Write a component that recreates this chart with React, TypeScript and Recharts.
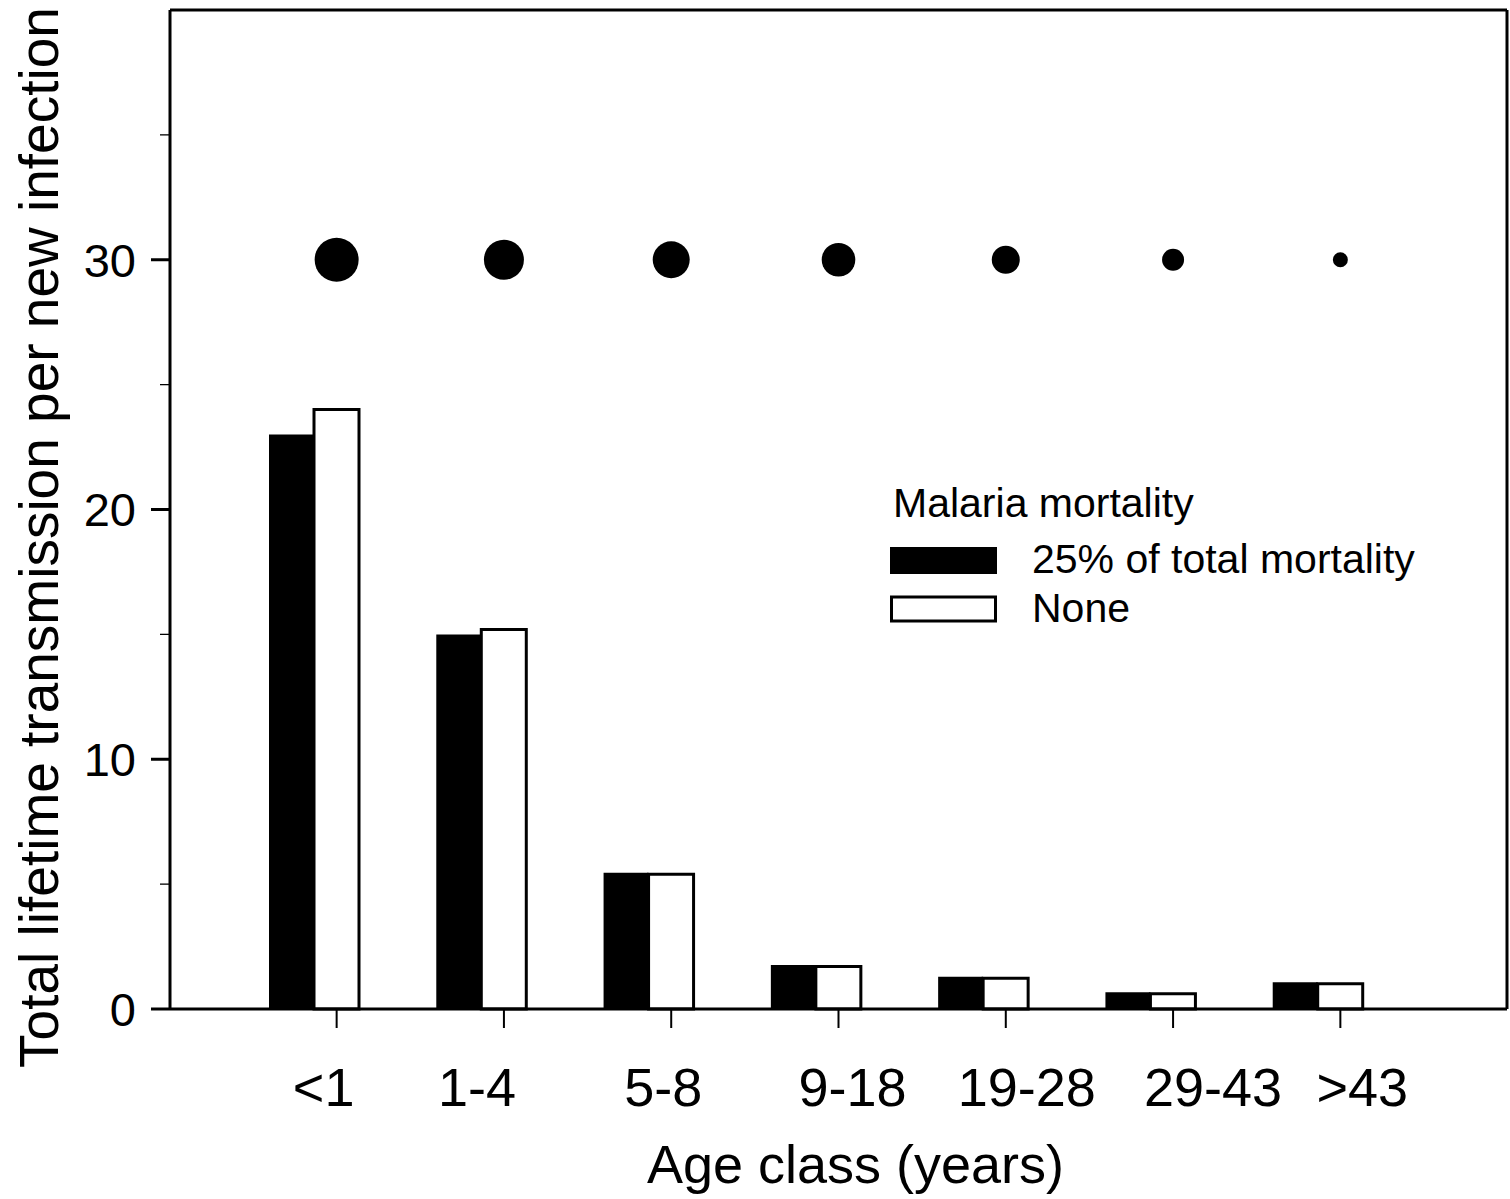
import React from 'react';
import { ComposedChart, Bar, Scatter, XAxis, YAxis, ReferenceLine, Legend, Label } from 'recharts';

// ---- data ----
const ageClasses = ['<1', '1-4', '5-8', '9-18', '19-28', '29-43', '>43'];
const mortality25 = [23.0, 15.0, 5.46, 1.76, 1.29, 0.67, 1.07];
const mortalityNone = [24.0, 15.2, 5.4, 1.7, 1.23, 0.61, 1.01];
const dotLevel = [30, 30, 30, 30, 30, 30, 30];
const dotRadius = [22, 20, 18.5, 16.8, 14, 11, 7.5];
const yTicks = [0, 5, 10, 15, 20, 25, 30, 35];
const yLabelledTicks = [0, 10, 20, 30];
const seriesNames = ['25% of total mortality', 'None'];
const legendTitle = 'Malaria mortality';
const xTitle = 'Age class (years)';
const yTitle = 'Total lifetime transmission per new infection';

const data = ageClasses.map((age, i) => ({
  age,
  mort25: mortality25[i],
  none: mortalityNone[i],
  dot: dotLevel[i],
  dotSize: dotRadius[i],
}));

const FONT = '"Liberation Sans", Arial, Helvetica, sans-serif';
// label nudges (style only) to mimic the original's hand-placed tick labels
const X_LABEL_SHIFT = [-13, -27, -8, 14, 21, 40, 22];

const XTick = (props: any) => {
  const { x, y, payload, index } = props;
  const shift = X_LABEL_SHIFT[index] ?? 0;
  return (
    <text x={x + shift} y={y + 78} textAnchor="middle" fontSize={54} fontFamily={FONT} fill="#000">
      {payload.value}
    </text>
  );
};

const YTick = (props: any) => {
  const { x, y, payload } = props;
  const v = payload.value;
  const major = yLabelledTicks.includes(v);
  return (
    <g>
      <line x1={x - (major ? 19 : 10)} x2={x} y1={y} y2={y} stroke="#000" strokeWidth={major ? 3 : 1.3} />
      {major && (
        <text x={x - 34} y={y} dy="0.36em" textAnchor="end" fontSize={47} fontFamily={FONT} fill="#000">
          {v}
        </text>
      )}
    </g>
  );
};

const XTitle = (props: any) => {
  const vb = props.viewBox || { x: 170, y: 1009, width: 1337 };
  return (
    <text x={vb.x + vb.width / 2 + 17} y={vb.y + 174} textAnchor="middle" fontSize={54} fontFamily={FONT} fill="#000">
      {xTitle}
    </text>
  );
};

const YTitle = (props: any) => {
  const vb = props.viewBox || { x: 0, y: 10, width: 170, height: 999 };
  const cx = vb.x + 58;
  const cy = vb.y + vb.height / 2 + 28;
  return (
    <text
      x={cx}
      y={cy}
      transform={`rotate(-90, ${cx}, ${cy})`}
      textAnchor="middle"
      fontSize={55}
      fontFamily={FONT}
      fill="#000"
    >
      {yTitle}
    </text>
  );
};

const DotShape = (props: any) => {
  const { cx, cy, payload } = props;
  return <circle cx={cx} cy={cy} r={payload.dotSize} fill="#000" />;
};

const LegendBox = (props: any) => {
  const items = (props.payload || []).filter((e: any) => seriesNames.includes(e.value));
  return (
    <svg width={580} height={170} style={{ display: 'block', overflow: 'visible' }}>
      <text x={13} y={47} fontSize={41} fontFamily={FONT} fill="#000">
        {legendTitle}
      </text>
      {items.map((e: any, i: number) => {
        const top = 77 + i * 48.5;
        const isWhite = e.value === seriesNames[1];
        return (
          <g key={e.value}>
            {isWhite ? (
              <rect x={11.5} y={top + 1.5} width={104} height={24} fill="#fff" stroke="#000" strokeWidth={3} />
            ) : (
              <rect x={10} y={top} width={107} height={27} fill="#000" />
            )}
            <text x={152} y={top + 26} fontSize={41} fontFamily={FONT} fill="#000">
              {e.value}
            </text>
          </g>
        );
      })}
    </svg>
  );
};

export default function App() {
  return (
    <div style={{ position: 'absolute', left: 0, top: 0, width: 1510, height: 1199, background: '#fff' }}>
      <ComposedChart
        width={1510}
        height={1199}
        data={data}
        margin={{ top: 10, right: 2, bottom: 70, left: 0 }}
        barGap={0}
        barSize={45}
      >
        <XAxis
          dataKey="age"
          padding={{ left: 83, right: 83 }}
          height={120}
          axisLine={{ stroke: '#000', strokeWidth: 3 }}
          tickLine={{ stroke: '#000', strokeWidth: 2 }}
          tickSize={19}
          tickMargin={0}
          tick={<XTick />}
          interval={0}
        >
          <Label content={<XTitle />} />
        </XAxis>
        <YAxis
          domain={[0, 40]}
          ticks={yTicks}
          width={170}
          tickSize={0}
          tickMargin={0}
          tickLine={false}
          axisLine={{ stroke: '#000', strokeWidth: 3 }}
          tick={<YTick />}
          interval={0}
        >
          <Label content={<YTitle />} />
        </YAxis>
        <YAxis
          yAxisId="frame"
          orientation="right"
          width={1}
          domain={[0, 40]}
          ticks={[0, 40]}
          tick={false}
          tickLine={false}
          axisLine={{ stroke: '#000', strokeWidth: 3 }}
        />
        <ReferenceLine y={40} stroke="#000" strokeWidth={3} />
        <Bar dataKey="mort25" name={seriesNames[0]} fill="#000" isAnimationActive={false} />
        <Bar dataKey="none" name={seriesNames[1]} fill="#fff" stroke="#000" strokeWidth={3} isAnimationActive={false} />
        <Bar dataKey={() => 0} name="spacer" fill="none" legendType="none" isAnimationActive={false} />
        <Scatter
          yAxisId="frame"
          dataKey="dot"
          fill="#000"
          shape={<DotShape />}
          legendType="none"
          isAnimationActive={false}
        />
        <Legend
          layout="vertical"
          align="center"
          verticalAlign="middle"
          content={<LegendBox />}
          wrapperStyle={{ left: 880, top: 470, width: 580, height: 170 }}
        />
      </ComposedChart>
    </div>
  );
}
